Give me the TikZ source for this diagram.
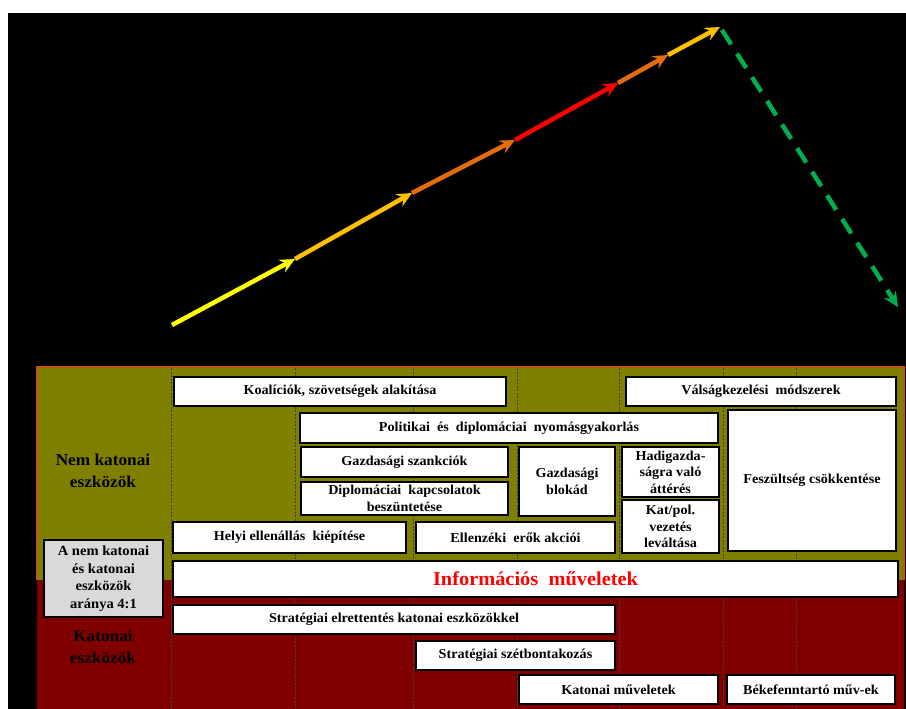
\documentclass[tikz,border=0pt]{standalone}
\usepackage{fontspec}
\setmainfont[FakeStretch=1.04]{Liberation Serif}
\usetikzlibrary{arrows.meta}
\definecolor{cyel}{HTML}{FFFF00}
\definecolor{camber}{HTML}{FFC000}
\definecolor{cdorange}{HTML}{E46C0A}
\definecolor{cred}{HTML}{FF0000}
\definecolor{cgreen}{HTML}{00B050}
\definecolor{colivebg}{HTML}{808000}
\definecolor{cmaroon}{HTML}{800000}
\definecolor{cedge}{HTML}{C0560E}
\definecolor{cgraybox}{HTML}{D9D9D9}
\begin{document}
\begin{tikzpicture}[x=1pt,y=-1pt,
  box/.style={draw=black, line width=2.3pt, fill=white, align=center, inner sep=0pt,
    font=\fontsize{13.6}{16.5}\selectfont\bfseries},
  graybox/.style={box, fill=cgraybox, font=\fontsize{14}{17.5}\selectfont\bfseries},
  sidelabel/.style={align=center, font=\fontsize{16.6}{22}\selectfont\bfseries, text=black},
  dotline/.style={black!75, line width=0.7pt, dash pattern=on 2pt off 1.5pt},
  seg/.style={line width=4.5pt, -{Stealth[length=15pt, width=14pt, inset=5.5pt]}},
]
\useasboundingbox (0,0) rectangle (906,709);
\fill[white] (0,0) rectangle (906,709);
\fill[black] (8,13) rectangle (906,709);

% panel
\fill[colivebg] (37,367) rectangle (904,580);
\fill[cmaroon] (37,580) rectangle (904,709);
\draw[cedge, line width=1.5pt] (37,580) -- (37,367) -- (904,367) -- (904,580);

% dotted column lines
\foreach \xx in {171,295,413,517,619,723,796}
  \draw[dotline] (\xx,368) -- (\xx,709);

% escalation arrow
\coordinate (p0) at (172,325);
\coordinate (p1) at (295,259);
\coordinate (p2) at (412,193);
\coordinate (p3) at (515,140);
\coordinate (p4) at (618,83);
\coordinate (p5) at (668,55);
\coordinate (p6) at (720,27);
\coordinate (g0) at (722,30);
\coordinate (g1) at (898,307);
\draw[seg, cyel] (p0) -- (p1);
\draw[seg, camber] (p1) -- (p2);
\draw[seg, cdorange] (p2) -- (p3);
\draw[seg, cred] (p3) -- (p4);
\draw[seg, cdorange] (p4) -- (p5);
\draw[seg, camber] (p5) -- (p6);
\draw[cgreen, line width=4.5pt, dash pattern=on 17pt off 11pt,
  -{Stealth[length=15pt, width=14pt, inset=5.5pt]}] (g0) -- (g1);

% side labels
\node[sidelabel] (nemkat) at (103,471) {Nem katonai\\eszközök};
\node[sidelabel] (kat) at (103,647) {Katonai\\eszközök};

% boxes
\node[box, minimum width=332pt, minimum height=29pt] (koal) at (340,391.5) {Koalíciók, szövetségek alakítása};
\node[box, minimum width=270pt, minimum height=29pt] (valsag) at (761,391.5) {Válságkezelési\ \ módszerek};
\node[box, minimum width=418pt, minimum height=30pt] (polit) at (509,428) {Politikai\ \ és\ \ diplomáciai\ \ nyomásgyakorlás};
\node[box, minimum width=207pt, minimum height=30pt] (szank) at (404.5,462) {Gazdasági szankciók};
\node[box, minimum width=207pt, minimum height=33pt] (dipl) at (404.5,498.5) {Diplomáciai\ \ kapcsolatok\\beszüntetése};
\node[box, minimum width=96pt, minimum height=69pt] (blokad) at (567,481.5) {Gazdasági\\blokád};
\node[box, minimum width=97pt, minimum height=50pt] (hadig) at (670.5,472) {Hadigazda-\\ságra való\\áttérés};
\node[box, minimum width=97pt, minimum height=53pt] (katpol) at (670.5,526.5) {Kat/pol.\\vezetés\\leváltása};
\node[box, minimum width=168pt, minimum height=141pt] (fesz) at (812,480.5) {Feszültség csökkentése};
\node[box, minimum width=233pt, minimum height=31pt] (helyi) at (289.5,537.5) {Helyi ellenállás\ \ kiépítése};
\node[box, minimum width=199pt, minimum height=31pt] (ellen) at (515.5,537.5) {Ellenzéki\ \ erők akciói};
\node[graybox, minimum width=119pt, minimum height=77pt] (arany) at (103.5,578.5) {A nem katonai\\és katonai\\eszközök\\aránya 4:1};
\node[box, minimum width=725pt, minimum height=36pt, text=cred, font=\fontsize{19.6}{22}\selectfont\bfseries] (info) at (535.5,579) {Információs\ \ műveletek};
\node[box, minimum width=442pt, minimum height=29pt] (strat) at (394,619.5) {Stratégiai elrettentés katonai eszközökkel};
\node[box, minimum width=199pt, minimum height=29pt] (szet) at (515.5,655.5) {Stratégiai szétbontakozás};
\node[box, minimum width=199pt, minimum height=29pt] (katmuv) at (618.5,689.5) {Katonai műveletek};
\node[box, minimum width=168pt, minimum height=29pt] (beke) at (811,689.5) {Békefenntartó műv-ek};
\end{tikzpicture}
\end{document}
